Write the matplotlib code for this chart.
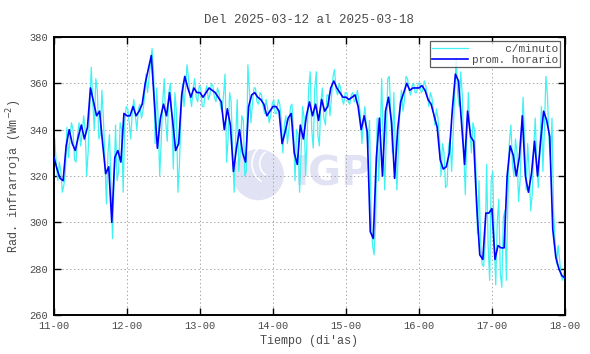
import numpy as np
import matplotlib
matplotlib.use("Agg")
import matplotlib.pyplot as plt
from matplotlib.patches import Ellipse, Arc

# Hourly means (prom. horario), one list per day, W/m^2
day11 = [328, 323, 319, 318, 333, 340, 334, 331, 337, 342, 336, 341, 358, 352, 346, 348, 334, 321, 324, 300, 328, 331, 326, 347]
day12 = [346, 346, 350, 346, 348, 351, 360, 366, 372, 352, 332, 345, 351, 346, 356, 344, 331, 334, 355, 363, 358, 354, 358, 356]
day13 = [356, 354, 356, 358, 357, 356, 354, 352, 340, 349, 342, 322, 332, 340, 330, 326, 350, 355, 356, 354, 353, 351, 346, 348]
day14 = [350, 350, 348, 334, 339, 345, 347, 330, 325, 342, 336, 346, 352, 346, 351, 344, 353, 348, 350, 358, 361, 358, 356, 354]
day15 = [354, 353, 354, 355, 350, 340, 346, 339, 296, 293, 328, 345, 320, 348, 354, 343, 319, 340, 352, 356, 360, 357, 358, 358]
day16 = [358, 359, 357, 353, 351, 346, 341, 327, 323, 324, 330, 349, 364, 361, 343, 325, 348, 337, 335, 307, 286, 284, 304, 304]
day17 = [306, 284, 290, 289, 289, 320, 333, 329, 320, 328, 346, 320, 313, 321, 335, 320, 335, 348, 344, 337, 297, 285, 280, 277, 276]

# Per-minute data, summarised as the high and low reached in each hour
hi11 = [336, 326, 322, 322, 341, 343, 340, 338, 343, 346, 340, 350, 367, 362, 357, 357, 345, 330, 338, 318, 342, 343, 340, 350]
lo11 = [325, 318, 313, 316, 328, 336, 327, 326, 333, 338, 320, 331, 352, 340, 336, 338, 326, 308, 315, 293, 318, 322, 313, 343]
hi12 = [349, 348, 353, 349, 351, 354, 364, 369, 375, 358, 345, 352, 362, 356, 360, 356, 348, 345, 360, 368, 362, 358, 362, 359]
lo12 = [343, 336, 346, 340, 345, 348, 356, 362, 365, 334, 320, 335, 343, 335, 345, 323, 313, 325, 350, 358, 354, 350, 354, 352]
hi13 = [358, 356, 359, 360, 359, 358, 356, 355, 364, 356, 352, 337, 353, 346, 344, 368, 357, 358, 358, 356, 355, 353, 349, 351]
lo13 = [350, 350, 353, 355, 354, 352, 350, 348, 326, 336, 330, 313, 322, 330, 320, 322, 343, 351, 352, 351, 350, 347, 343, 346]
hi14 = [353, 353, 351, 342, 346, 350, 351, 340, 338, 350, 345, 358, 365, 358, 365, 352, 358, 355, 355, 363, 366, 360, 358, 356]
lo14 = [347, 347, 344, 330, 334, 340, 340, 318, 313, 330, 320, 338, 340, 332, 338, 333, 345, 342, 346, 354, 357, 355, 353, 351]
hi15 = [356, 355, 356, 357, 352, 345, 350, 344, 305, 300, 345, 362, 335, 362, 363, 356, 330, 350, 357, 363, 362, 359, 360, 360]
lo15 = [352, 351, 352, 353, 346, 334, 340, 332, 290, 286, 318, 335, 314, 336, 346, 330, 314, 332, 348, 353, 357, 355, 356, 356]
hi16 = [360, 361, 359, 356, 354, 349, 345, 334, 330, 333, 336, 356, 371, 365, 355, 338, 356, 343, 340, 318, 292, 290, 325, 318]
lo16 = [356, 357, 355, 350, 348, 342, 336, 320, 315, 316, 322, 338, 355, 350, 330, 312, 340, 330, 322, 295, 282, 281, 290, 275]
hi17 = [322, 300, 310, 302, 305, 335, 342, 336, 330, 338, 354, 334, 322, 332, 345, 330, 350, 363, 355, 345, 305, 290, 284, 279]
lo17 = [292, 273, 278, 272, 275, 310, 325, 320, 309, 318, 335, 314, 305, 312, 325, 315, 322, 340, 335, 328, 292, 282, 277, 275]

tick_labels = ["11-00", "12-00", "13-00", "14-00", "15-00", "16-00", "17-00", "18-00"]

hourly = np.array(day11 + day12 + day13 + day14 + day15 + day16 + day17)
hi = np.array(hi11 + hi12 + hi13 + hi14 + hi15 + hi16 + hi17)
lo = np.array(lo11 + lo12 + lo13 + lo14 + lo15 + lo16 + lo17)

t_hour = 11 + np.arange(len(hourly)) / 24.0

# zigzag between the hourly extremes for the per-minute trace
h = np.arange(len(hi))
first = np.where(h % 2 == 0, hi, lo)
second = np.where(h % 2 == 0, lo, hi)
t_min = np.empty(2 * len(h))
v_min = np.empty(2 * len(h))
t_min[0::2] = 11 + (h + 0.25) / 24.0
t_min[1::2] = 11 + (h + 0.75) / 24.0
v_min[0::2] = first
v_min[1::2] = second

plt.rcParams["font.family"] = ["Liberation Mono", "DejaVu Sans Mono"]
txt = "#4a4a4a"

fig = plt.figure(figsize=(5.9, 3.54), dpi=100)
ax = fig.add_axes([0.0915, 0.110, 0.866, 0.7855])

# IGP watermark (circle drawn as ellipse in axes fraction so it looks round)
wm = "#e2e2f5"
cx, cy, w, hgt = 0.40, 0.505, 0.100, 0.184
ax.add_patch(Ellipse((cx, cy), w, hgt, transform=ax.transAxes,
                     facecolor=wm, edgecolor="none", zorder=0.5))
for k in (0.55, 0.85):
    ax.add_patch(Arc((cx + 0.03, cy + 0.04), w * k, hgt * k, theta1=110, theta2=250,
                     transform=ax.transAxes, color="white", lw=1.2, zorder=0.6))
ax.text(0.468, 0.505, "IGP", transform=ax.transAxes, fontsize=29,
        fontweight="bold", color=wm, family="DejaVu Sans",
        va="center", ha="left", zorder=0.5)

ax.plot(t_min, v_min, color="#40f2f2", lw=0.9, label="     c/minuto", zorder=2)
ax.plot(t_hour, hourly, color="#0000ff", lw=1.2, label="prom. horario", zorder=3)

ax.set_xlim(11, 18)
ax.set_ylim(260, 380)
ax.set_xticks(range(11, 19))
ax.set_xticklabels(tick_labels)
ax.set_yticks(range(260, 381, 20))

ax.grid(True, color="#aaaaaa", linestyle=(0, (1.5, 2.5)), lw=0.7)
ax.tick_params(direction="in", top=True, right=True, length=5, width=1,
               labelsize=7.5, labelcolor=txt, pad=4)
for s in ax.spines.values():
    s.set_linewidth(1.4)

ax.set_title("Del 2025-03-12 al 2025-03-18", fontsize=9, color=txt, pad=10)
ax.set_xlabel("Tiempo (di'as)", fontsize=8.5, color=txt, labelpad=3)
ax.set_ylabel("Rad. infrarroja (Wm$^{-2}$)", fontsize=8.5, color=txt, labelpad=4)

leg = ax.legend(loc="upper right", fontsize=8, frameon=True, fancybox=False,
                borderpad=0.2, handlelength=3.2, handletextpad=0.4,
                labelspacing=0.1, borderaxespad=0.4)
leg.get_frame().set_edgecolor("#333333")
leg.get_frame().set_linewidth(0.9)
for t in leg.get_texts():
    t.set_color(txt)

fig.savefig("out.png", dpi=100)
